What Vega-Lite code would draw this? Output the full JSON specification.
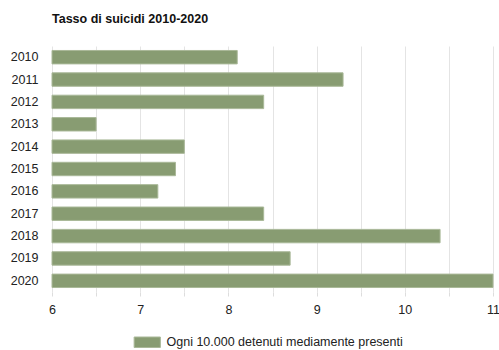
{
  "$schema": "https://vega.github.io/schema/vega-lite/v6.json",
  "autosize": "none",
  "width": 441,
  "height": 246,
  "padding": {"left": 52, "top": 46, "right": 6, "bottom": 58},
  "background": "white",
  "title": {
    "text": "Tasso di suicidi 2010-2020",
    "anchor": "start",
    "frame": "group",
    "offset": 21,
    "font": "Liberation Sans",
    "fontSize": 12.5,
    "fontWeight": "bold",
    "color": "#111"
  },
  "data": {
    "values": [
      {"anno": "2010", "tasso": 8.1, "serie": "Ogni 10.000 detenuti mediamente presenti"},
      {"anno": "2011", "tasso": 9.3, "serie": "Ogni 10.000 detenuti mediamente presenti"},
      {"anno": "2012", "tasso": 8.4, "serie": "Ogni 10.000 detenuti mediamente presenti"},
      {"anno": "2013", "tasso": 6.5, "serie": "Ogni 10.000 detenuti mediamente presenti"},
      {"anno": "2014", "tasso": 7.5, "serie": "Ogni 10.000 detenuti mediamente presenti"},
      {"anno": "2015", "tasso": 7.4, "serie": "Ogni 10.000 detenuti mediamente presenti"},
      {"anno": "2016", "tasso": 7.2, "serie": "Ogni 10.000 detenuti mediamente presenti"},
      {"anno": "2017", "tasso": 8.4, "serie": "Ogni 10.000 detenuti mediamente presenti"},
      {"anno": "2018", "tasso": 10.4, "serie": "Ogni 10.000 detenuti mediamente presenti"},
      {"anno": "2019", "tasso": 8.7, "serie": "Ogni 10.000 detenuti mediamente presenti"},
      {"anno": "2020", "tasso": 11.0, "serie": "Ogni 10.000 detenuti mediamente presenti"}
    ]
  },
  "mark": {"type": "bar", "stroke": "#a9b898", "strokeWidth": 1},
  "encoding": {
    "y": {
      "field": "anno",
      "type": "nominal",
      "sort": null,
      "scale": {"paddingInner": 0.4, "paddingOuter": 0.2},
      "axis": {
        "title": null,
        "domain": false,
        "ticks": false,
        "grid": false,
        "labelPadding": 14,
        "labelFont": "Liberation Sans",
        "labelFontSize": 12.5,
        "labelColor": "#222"
      }
    },
    "x": {
      "field": "tasso",
      "type": "quantitative",
      "scale": {"domain": [6, 11], "zero": false, "nice": false},
      "axis": {
        "title": null,
        "domain": false,
        "values": [6, 6.5, 7, 7.5, 8, 8.5, 9, 9.5, 10, 10.5, 11],
        "labelExpr": "datum.value % 1 == 0 ? format(datum.value, 'd') : ''",
        "grid": true,
        "gridColor": "#e4e4e4",
        "gridWidth": 1,
        "ticks": true,
        "tickSize": 4,
        "tickColor": "#dddddd",
        "labelPadding": 7,
        "labelFont": "Liberation Sans",
        "labelFontSize": 12.5,
        "labelColor": "#222",
        "labelFlush": false,
        "labelOverlap": false
      }
    },
    "x2": {"datum": 6},
    "color": {
      "field": "serie",
      "type": "nominal",
      "scale": {"range": ["#889c72"]},
      "legend": {
        "title": null,
        "orient": "none",
        "legendX": 89,
        "legendY": 290,
        "symbolType": "M-2.5,-1H2.5V1H-2.5Z",
        "symbolSize": 110,
        "symbolStrokeColor": "#a9b898",
        "symbolStrokeWidth": 1,
        "labelFont": "Liberation Sans",
        "labelFontSize": 12.5,
        "labelColor": "#222",
        "labelOffset": 13,
        "labelLimit": 0
      }
    }
  },
  "config": {"view": {"stroke": null}}
}
